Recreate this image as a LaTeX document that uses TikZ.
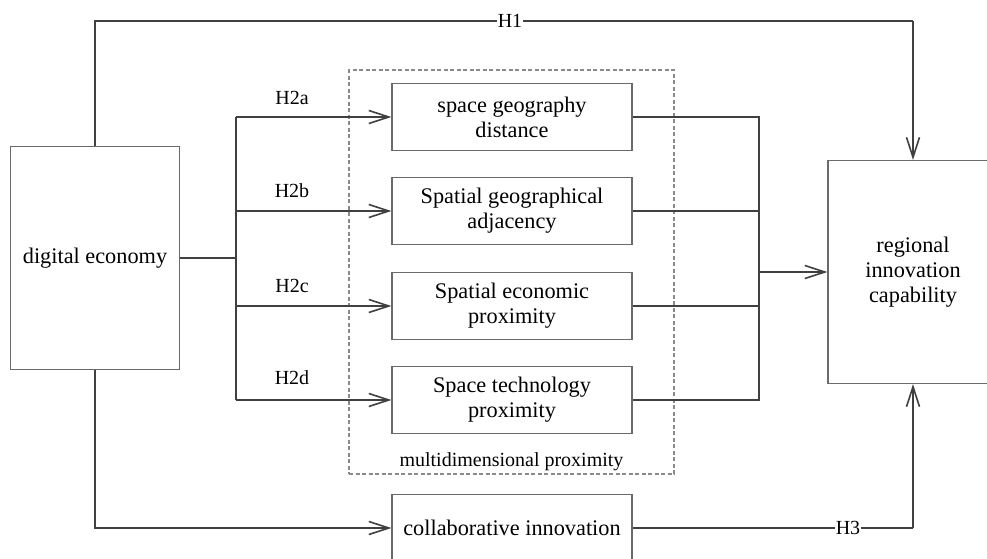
\documentclass[tikz,border=0pt]{standalone}
\usepackage{fontspec}
\setmainfont{Liberation Serif}
\usetikzlibrary{arrows.meta,calc}
\definecolor{linec}{HTML}{404040}
\definecolor{boxc}{HTML}{6a6a6a}
\definecolor{dashc}{HTML}{8a8a8a}
\begin{document}
\begin{tikzpicture}[x=1pt,y=-1pt,
  box/.style={draw=boxc,line width=1.2pt,rectangle,align=center,inner sep=0pt,
    font=\rmfamily\fontsize{22.3}{25}\selectfont},
  conn/.style={draw=linec,line width=2pt},
  arr/.style={conn,-{Straight Barb[length=20pt,width=13pt,line width=1.6pt]}},
  lab/.style={font=\rmfamily\fontsize{20}{24}\selectfont,inner sep=2pt},
  hlab/.style={lab,fill=white,inner sep=1pt}]
\clip (0,0) rectangle (987,558);
\fill[white] (0,0) rectangle (987,558);
% dashed group
\node[draw=dashc,dash pattern=on 4pt off 2.5pt,line width=1.1pt,minimum width=325pt,minimum height=404pt,inner sep=0pt] (mp) at (511.5,272) {};
\node[lab] (mplab) at (511.5,462) {multidimensional proximity};
% boxes
\node[box,minimum width=169pt,minimum height=223pt] (de) at (95,258) {digital economy};
\node[box,minimum width=170pt,minimum height=223pt] (ric) at (913,272) {regional\\innovation\\capability};
\node[box,minimum width=240pt,minimum height=67pt] (b1) at (512,117) {space geography\\distance};
\node[box,minimum width=240pt,minimum height=67pt] (b2) at (512,211) {Spatial geographical\\adjacency};
\node[box,minimum width=240pt,minimum height=67pt] (b3) at (512,306) {Spatial economic\\proximity};
\node[box,minimum width=240pt,minimum height=67pt] (b4) at (512,400) {Space technology\\proximity};
\node[box,minimum width=240pt,minimum height=67pt] (ci) at (512,528) {collaborative innovation};
% H1
\coordinate (top) at (95,21);
\draw[conn] (de.north) -- (de.north |- top) -- (ric.north |- top);
\draw[arr] (ric.north |- top) -- (ric.north);
\node[hlab] (h1) at (510,21) {H1};
% branch H2
\coordinate (j) at (236,258);
\draw[conn] (de.east) -- (j);
\draw[conn] (j |- b1.west) -- (j |- b4.west);
\draw[arr] (j |- b1.west) -- (b1.west);
\draw[arr] (j |- b2.west) -- (b2.west);
\draw[arr] (j |- b3.west) -- (b3.west);
\draw[arr] (j |- b4.west) -- (b4.west);
\node[lab] (h2a) at (292,98) {H2a};
\node[lab] (h2b) at (292,191) {H2b};
\node[lab] (h2c) at (292,286) {H2c};
\node[lab] (h2d) at (292,378) {H2d};
% merge
\coordinate (m) at (759,272);
\draw[conn] (b1.east) -- (m |- b1.east) -- (m |- b4.east) -- (b4.east);
\draw[conn] (b2.east) -- (m |- b2.east);
\draw[conn] (b3.east) -- (m |- b3.east);
\draw[arr,line width=2.6pt] (m) -- (ric.west);
% H3
\draw[arr] (de.south) |- (ci.west);
\coordinate (bot) at (913,528);
\draw[conn] (ci.east) -- (bot);
\draw[arr] (bot) -- (ric.south);
\node[hlab] (h3) at (848,528) {H3};
\end{tikzpicture}
\end{document}
